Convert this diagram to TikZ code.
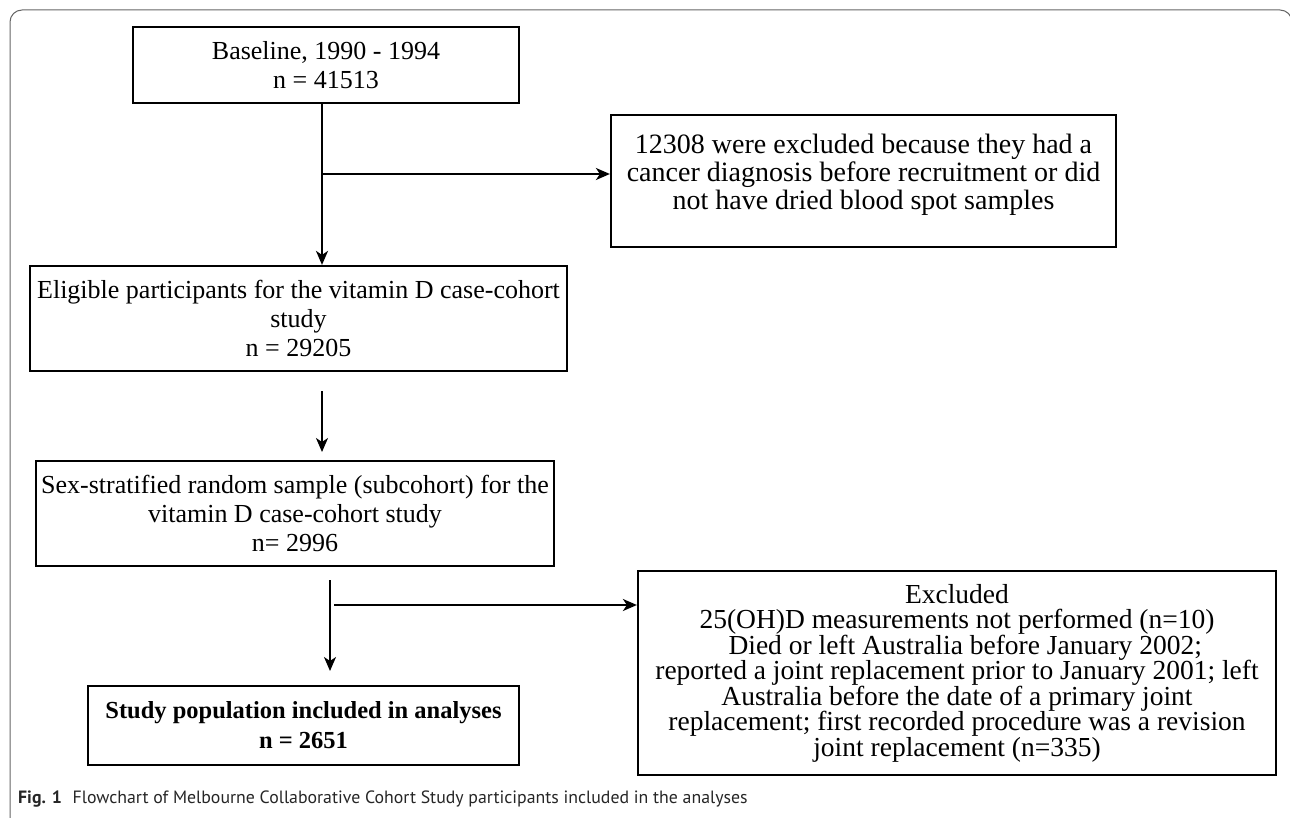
\documentclass[tikz,border=0pt]{standalone}
\usepackage{fontspec}
\setmainfont{Liberation Serif}
\newfontfamily\capfont{PT Sans}
\usetikzlibrary{arrows.meta}
\tikzset{
  box/.style={draw=black, line width=2.2pt, align=center, inner sep=0pt,
    font=\fontsize{26}{29}\selectfont},
  arr/.style={line width=2pt, -{Stealth[length=14pt,width=12pt,inset=4pt]}},
  frame/.style={draw=black!60, line width=1pt, rounded corners=12pt}
}
\begin{document}
\begin{tikzpicture}[x=1pt,y=-1pt]
\useasboundingbox (0,0) rectangle (1290,818);
\draw[frame] (10,830) -- (10,10) -- (1292,10) -- (1292,830);

\node[box, minimum width=386pt, minimum height=76pt] (b1) at (326,65)
  {Baseline, 1990 - 1994\\ n = 41513};
\node[box, minimum width=505pt, minimum height=132pt] (rb1) at (863.5,181) {};
\node[align=center, inner sep=0pt, font=\fontsize{28}{28}\selectfont, anchor=north] (rb1t) at (863.5,134)
  {12308 were excluded because they had a\\ cancer diagnosis before recruitment or did\\ not have dried blood spot samples};
\node[box, minimum width=537pt, minimum height=105pt] (b2) at (298.5,318.5)
  {Eligible participants for the vitamin D case-cohort\\ study\\ n = 29205};
\node[box, minimum width=518pt, minimum height=105pt] (b3) at (295,513.5)
  {Sex-stratified random sample (subcohort) for the\\ vitamin D case-cohort study\\ n= 2996};
\node[box, minimum width=431pt, minimum height=79pt, font=\fontsize{24.5}{30}\selectfont\bfseries] (b4) at (303.5,725.5)
  {Study population included in analyses\\ n = 2651};
\node[box, minimum width=638pt, minimum height=204pt, font=\fontsize{27.5}{25.5}\selectfont] (rb2) at (957,673)
  {Excluded\\ 25(OH)D measurements not performed (n=10)\\ \hspace*{0.6em}Died or left Australia before January 2002;\\ reported a joint replacement prior to January 2001; left\\ Australia before the date of a primary joint\\ replacement; first recorded procedure was a revision\\ joint replacement (n=335)};

\coordinate (t1) at (322,103);
\coordinate (j1) at (322,174);
\draw[arr] (t1) -- (t1 |- b2.north);
\draw[arr] (j1) -- (j1 -| rb1.west);

\coordinate (s2) at (322,391);
\coordinate (e2) at (322,452);
\draw[arr] (s2) -- (e2);

\coordinate (s3) at (330,580);
\coordinate (e3) at (330,671);
\draw[arr] (s3) -- (e3);
\coordinate (h3) at (334,605);
\draw[arr] (h3) -- (h3 -| rb2.west);

\node[anchor=base west, inner sep=0pt, font=\capfont\fontsize{17.8}{20}\selectfont, text=black!85] (cap) at (18,803)
  {\textbf{Fig. 1}\hspace{0.6em}Flowchart of Melbourne Collaborative Cohort Study participants included in the analyses};
\end{tikzpicture}
\end{document}
